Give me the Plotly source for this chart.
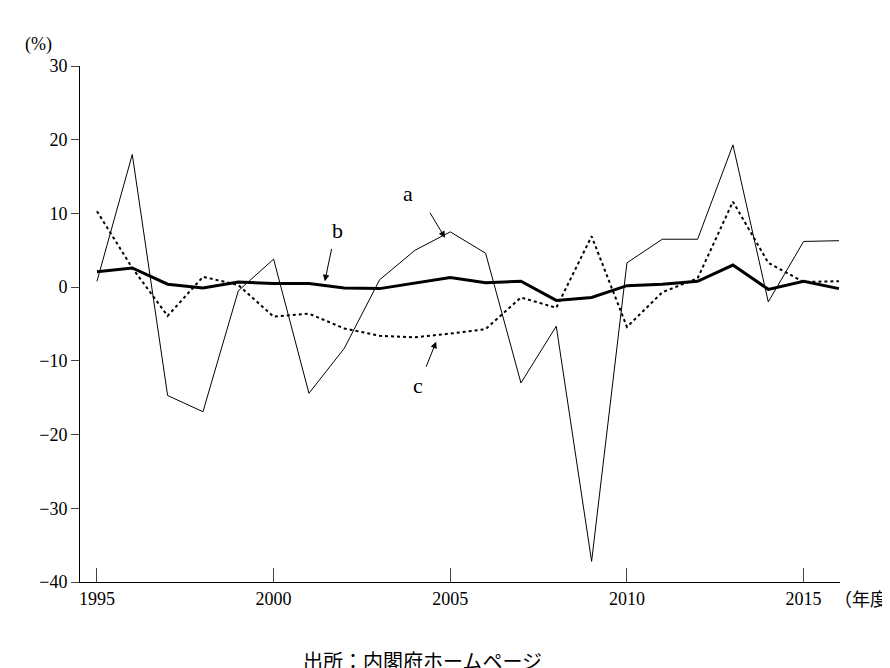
import plotly.graph_objects as go

years = list(range(1995, 2017))
a = [0.8, 18, -14.7, -16.9, -0.5, 3.8, -14.4, -8.3, 1, 5, 7.5, 4.6, -13, -5.3, -37.2, 3.3, 6.5, 6.5, 19.3, -2, 6.2, 6.3]
b = [2.1, 2.6, 0.4, -0.1, 0.7, 0.5, 0.5, -0.1, -0.2, 0.6, 1.3, 0.6, 0.8, -1.8, -1.4, 0.2, 0.4, 0.8, 3.0, -0.3, 0.8, -0.2]
c = [10.3, 2.6, -3.9, 1.4, 0.3, -4, -3.6, -5.6, -6.6, -6.8, -6.3, -5.7, -1.4, -2.8, 6.9, -5.4, -0.7, 1.2, 11.6, 3.3, 0.7, 0.8]
yticks = [30, 20, 10, 0, -10, -20, -30, -40]
ytext = ["30", "20", "10", "0", "−10", "−20", "−30", "−40"]
xticks = [1995, 2000, 2005, 2010, 2015]

F = "Liberation Serif, Noto Sans CJK JP"
fig = go.Figure()
fig.add_trace(go.Scatter(x=years, y=a, mode="lines", line=dict(color="black", width=1)))
fig.add_trace(go.Scatter(x=years, y=b, mode="lines", line=dict(color="black", width=3)))
fig.add_trace(go.Scatter(x=years, y=c, mode="lines", line=dict(color="black", width=2, dash="dot")))

# (label x, label y, arrow tip x, tip y, tail x, tail y)
for txt, tx, ty, px, py, sx, sy in [("a", 2003.8, 12.7, 2004.85, 6.7, 2004.4, 10.3),
                                     ("b", 2001.8, 7.7, 2001.45, 0.8, 2001.65, 5.4),
                                     ("c", 2004.1, -13.4, 2004.6, -7.4, 2004.3, -11.0)]:
    fig.add_annotation(x=px, y=py, ax=sx, ay=sy, axref="x", ayref="y",
                       showarrow=True, arrowhead=2, arrowsize=1.3, arrowwidth=1, arrowcolor="black", text="")
    fig.add_annotation(x=tx, y=ty, text=txt, showarrow=False, font=dict(size=22, family=F, color="black"))

fig.add_annotation(xref="paper", yref="paper", x=-0.075, y=1.065, text="(%)", showarrow=False,
                   font=dict(size=18, family=F, color="black"), xanchor="left")
fig.add_annotation(xref="paper", yref="paper", x=0.99, y=-0.012, text="（年度）", showarrow=False,
                   font=dict(size=18, family=F, color="black"), xanchor="left", yanchor="top")
fig.add_annotation(xref="paper", yref="paper", x=0.45, y=-0.13, text="出所：内閣府ホームページ", showarrow=False,
                   font=dict(size=20, family=F, color="black"), yanchor="top")

fig.update_layout(width=890, height=668, margin=dict(l=72, r=58, t=58, b=94, autoexpand=False),
                  plot_bgcolor="white", paper_bgcolor="white", showlegend=False,
                  font=dict(family=F, size=18, color="black"))
fig.update_xaxes(range=[1994.52, 2016.03], tickvals=xticks, ticks="inside", ticklen=14, showline=True,
                 linecolor="black", showgrid=False, zeroline=False, automargin=False)
fig.update_yaxes(range=[-40, 30], tickvals=yticks, ticktext=ytext, ticks="outside", ticklen=8, showline=True,
                 linecolor="black", showgrid=False, zeroline=False, automargin=False)
fig.write_html("out.html")
